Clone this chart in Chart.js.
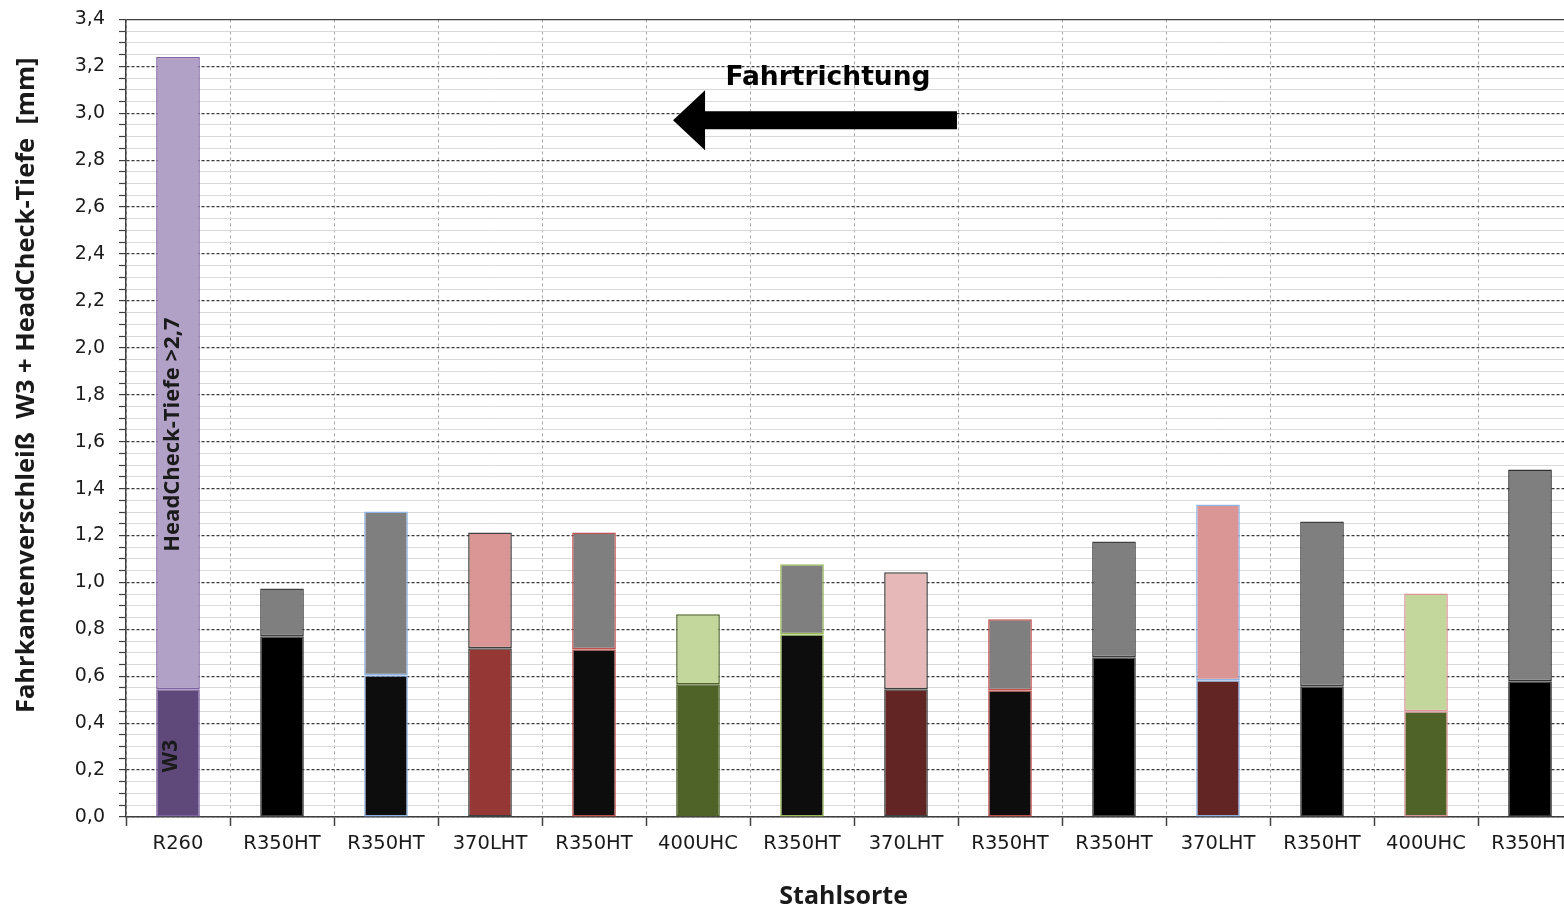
<!DOCTYPE html>
<html>
<head>
<meta charset="utf-8">
<script src="https://cdn.jsdelivr.net/npm/chart.js@4.4.0/dist/chart.umd.min.js"></script>
<style>
    html, body { margin: 0; padding: 0; background: #fff; overflow: hidden; }
    #wrap { width: 1592px; height: 912px; margin-top: -6px; position: relative; }
</style>
</head>
<body>
<div id="wrap"><canvas id="chart"></canvas></div>
<script>
// Stahlsorten (x axis)
const categories = ['R260', 'R350HT', 'R350HT', '370LHT', 'R350HT', '400UHC', 'R350HT',
    '370LHT', 'R350HT', 'R350HT', '370LHT', 'R350HT', '400UHC', 'R350HT'];

// Fahrkantenverschleiss W3 [mm]
const w3Values = [0.545, 0.77, 0.604, 0.719, 0.715, 0.566, 0.779, 0.545, 0.54, 0.681, 0.583, 0.557, 0.451, 0.579];
// HeadCheck-Tiefe [mm]
const headCheckValues = [2.695, 0.204, 0.698, 0.494, 0.498, 0.298, 0.298, 0.498, 0.303, 0.493, 0.749, 0.703, 0.502, 0.902];

const w3Colors = ['#5f497a', '#000000', '#0d0d0d', '#953735', '#0d0d0d', '#4f6228', '#0d0d0d',
    '#632523', '#0d0d0d', '#000000', '#632523', '#000000', '#4f6228', '#000000'];
const headCheckColors = ['#b2a1c7', '#7f7f7f', '#7f7f7f', '#d99694', '#7f7f7f', '#c3d69b', '#7f7f7f',
    '#e6b9b8', '#7f7f7f', '#7f7f7f', '#d99694', '#7f7f7f', '#c3d69b', '#7f7f7f'];
const edgeColors = ['#8064a2', '#404040', '#8eb4e3', '#404040', '#c0504d', '#4f6228', '#9bbb59',
    '#404040', '#c0504d', '#404040', '#8eb4e3', '#404040', '#d99694', '#303030'];

const fontName = "'DejaVu Sans', sans-serif";
const titleFont = "'Open Sans', 'DejaVu Sans', sans-serif";

function isMajor(v) {
    return Math.round(v * 100) % 20 === 0;
}

// axis titles, arrow and in-bar labels
const annotations = {
    id: 'annotations',
    afterDatasetsDraw(chart) {
        const ctx = chart.ctx;
        const x = chart.scales.x;
        const y = chart.scales.y;

        // Fahrtrichtung arrow
        const tip = x.getPixelForValue(4.76);
        const tail = x.getPixelForValue(7.49);
        const mid = y.getPixelForValue(2.97);
        ctx.save();
        ctx.fillStyle = '#000';
        ctx.beginPath();
        ctx.moveTo(tip, mid);
        ctx.lineTo(tip + 32, mid - 30);
        ctx.lineTo(tip + 32, mid - 9);
        ctx.lineTo(tail, mid - 9);
        ctx.lineTo(tail, mid + 9);
        ctx.lineTo(tip + 32, mid + 9);
        ctx.lineTo(tip + 32, mid + 30);
        ctx.closePath();
        ctx.fill();

        ctx.font = "bold 26.5px " + fontName;
        ctx.textAlign = 'center';
        ctx.textBaseline = 'middle';
        ctx.fillText('Fahrtrichtung', x.getPixelForValue(6.25), y.getPixelForValue(3.15));

        // x axis title
        ctx.fillStyle = '#1a1a1a';
        ctx.font = "bold 25px " + titleFont;
        ctx.fillText('Stahlsorte', x.getPixelForValue(6.4), chart.height - 9);
        ctx.restore();

        // y axis title
        ctx.save();
        ctx.fillStyle = '#1a1a1a';
        ctx.font = "bold 25.5px " + titleFont;
        ctx.textAlign = 'center';
        ctx.textBaseline = 'middle';
        ctx.translate(27, y.getPixelForValue(1.84));
        ctx.rotate(-Math.PI / 2);
        ctx.fillText('Fahrkantenverschleiß  W3 + HeadCheck-Tiefe  [mm]', 0, 0);
        ctx.restore();

        // rotated labels inside the R260 bar
        ctx.save();
        ctx.fillStyle = '#1a1a1a';
        ctx.font = "bold 22px " + titleFont;
        ctx.textAlign = 'center';
        ctx.textBaseline = 'middle';
        ctx.translate(x.getPixelForValue(-0.05), y.getPixelForValue(1.63));
        ctx.rotate(-Math.PI / 2);
        ctx.fillText('HeadCheck-Tiefe >2,7', 0, 0);
        ctx.restore();

        ctx.save();
        ctx.fillStyle = '#1a1a1a';
        ctx.font = "bold 21px " + titleFont;
        ctx.textAlign = 'center';
        ctx.textBaseline = 'middle';
        ctx.translate(x.getPixelForValue(-0.07), y.getPixelForValue(0.26));
        ctx.rotate(-Math.PI / 2);
        ctx.fillText('W3', 0, 0);
        ctx.restore();
    }
};

const ctx = document.getElementById('chart').getContext('2d');
new Chart(ctx, {
    type: 'bar',
    data: {
        labels: categories,
        datasets: [{
            label: 'W3',
            data: w3Values,
            backgroundColor: w3Colors,
            borderColor: edgeColors,
            borderWidth: 1.5,
            borderSkipped: false
        }, {
            label: 'HeadCheck-Tiefe',
            data: headCheckValues,
            backgroundColor: headCheckColors,
            borderColor: edgeColors,
            borderWidth: 1.5,
            borderSkipped: false
        }]
    },
    options: {
        responsive: true,
        maintainAspectRatio: false,
        animation: false,
        layout: { padding: { top: 12, right: 10, left: 0, bottom: 0 } },
        plugins: {
            legend: { display: false },
            tooltip: { enabled: false }
        },
        datasets: {
            bar: { categoryPercentage: 1, barPercentage: 0.42 }
        },
        scales: {
            x: {
                stacked: true,
                afterFit: axis => { axis.height = 89; },
                grid: {
                    offset: true,
                    color: '#a6a6a6',
                    lineWidth: 1,
                    tickColor: '#404040',
                    tickLength: 9,
                    tickWidth: 1.5
                },
                border: { color: '#404040', width: 1.5, dash: [3, 3] },
                ticks: {
                    color: '#1a1a1a',
                    font: { family: fontName, size: 19.5 },
                    padding: 6,
                    maxRotation: 0,
                    autoSkip: false
                }
            },
            y: {
                stacked: true,
                min: 0,
                max: 3.4,
                afterFit: axis => { axis.width = 126; },
                grid: {
                    color: c => {
                        if (c.tick && Math.abs(c.tick.value - 3.4) < 1e-6) return '#404040';
                        return c.tick && isMajor(c.tick.value) ? '#3a3a3a' : '#d9d9d9';
                    },
                    lineWidth: c => (c.tick && isMajor(c.tick.value) ? 1.2 : 1),
                    tickColor: '#404040',
                    tickLength: 7,
                    tickWidth: 1.2
                },
                border: {
                    color: '#404040',
                    width: 1.5,
                    dash: c => (c.tick && isMajor(c.tick.value) && Math.abs(c.tick.value - 3.4) > 1e-6 ? [3, 2] : [])
                },
                ticks: {
                    stepSize: 0.05,
                    autoSkip: false,
                    color: '#1a1a1a',
                    padding: 14,
                    font: { family: fontName, size: 19 },
                    callback: v => (isMajor(v) ? v.toFixed(1).replace('.', ',') : '')
                }
            }
        }
    },
    plugins: [annotations]
});
</script>
</body>
</html>
